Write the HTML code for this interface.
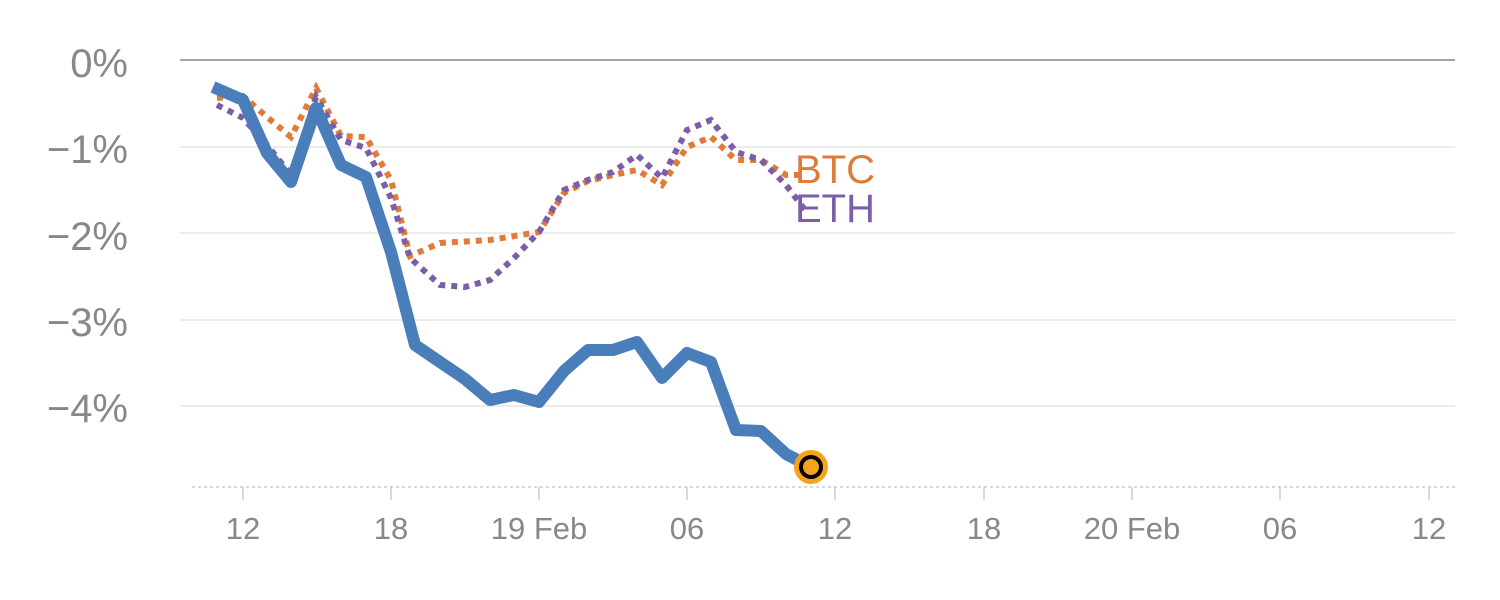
<!DOCTYPE html>
<html><head><meta charset="utf-8"><style>
html,body{margin:0;padding:0;background:#fff;}
svg{display:block;font-family:"Liberation Sans",sans-serif;}
</style></head><body>
<svg width="1500" height="600" viewBox="0 0 1500 600">
<g stroke="#e6e6e6" stroke-width="1.5">
<line x1="180" y1="147" x2="1455" y2="147"/>
<line x1="180" y1="233" x2="1455" y2="233"/>
<line x1="180" y1="320" x2="1455" y2="320"/>
<line x1="180" y1="406" x2="1455" y2="406"/>
</g>
<line x1="180" y1="60" x2="1455" y2="60" stroke="#888" stroke-width="1.5"/>
<line x1="192" y1="487" x2="1455" y2="487" stroke="#ccc" stroke-width="1.5" stroke-dasharray="3,3"/>
<g stroke="#ccc" stroke-width="1.5">
<line x1="243" y1="487" x2="243" y2="500"/><line x1="391" y1="487" x2="391" y2="500"/>
<line x1="539" y1="487" x2="539" y2="500"/><line x1="687" y1="487" x2="687" y2="500"/>
<line x1="835" y1="487" x2="835" y2="500"/><line x1="984" y1="487" x2="984" y2="500"/>
<line x1="1132" y1="487" x2="1132" y2="500"/><line x1="1280" y1="487" x2="1280" y2="500"/>
<line x1="1429" y1="487" x2="1429" y2="500"/>
</g>
<g fill="#888" font-size="40" text-anchor="end">
<text x="128" y="77">0%</text><text x="128" y="163">−1%</text><text x="128" y="250">−2%</text>
<text x="128" y="336">−3%</text><text x="128" y="422">−4%</text>
</g>
<g fill="#888" font-size="31" text-anchor="middle">
<text x="243" y="539">12</text><text x="391" y="539">18</text><text x="539" y="539">19 Feb</text>
<text x="687" y="539">06</text><text x="835" y="539">12</text><text x="984" y="539">18</text>
<text x="1132" y="539">20 Feb</text><text x="1280" y="539">06</text><text x="1429" y="539">12</text>
</g>
<polyline fill="none" stroke="#e07b39" stroke-width="6" stroke-dasharray="6,6" points="217,98 243,96 267,117 291,137 316,88 341,136 366,137 391,180 410,256 440,243 490,240 539,232 564,193 588,181 613,175 637,170 662,185 687,147 711,137 736,160 761,160 786,175 800,175"/>
<polyline fill="none" stroke="#7b5ea7" stroke-width="6" stroke-dasharray="6,6" points="217,105 243,118 267,145 291,175 316,97 341,140 366,148 391,198 410,258 440,285 465,287 490,280 514,258 539,232 564,190 588,180 613,172 637,155 662,178 687,130 711,120 736,152 761,160 786,185 805,210"/>
<polyline fill="none" stroke="#4a7ebb" stroke-width="12" stroke-linejoin="round" points="213,87 243,100 267,153 291,182 316,108 341,165 366,177 391,252 415,345 440,362 465,379 490,400 514,395 539,402 564,371 588,350 613,350 637,342 662,378 687,353 711,362 736,430 761,431 786,454 811,467"/>
<circle cx="811" cy="467" r="17" fill="#f5a31a"/>
<circle cx="811" cy="467" r="10" fill="#f5a31a" stroke="#000" stroke-width="4"/>
<text x="795" y="183" fill="#e07b39" font-size="40">BTC</text>
<text x="795" y="222" fill="#7b5ea7" font-size="40">ETH</text>
</svg>
</body></html>
